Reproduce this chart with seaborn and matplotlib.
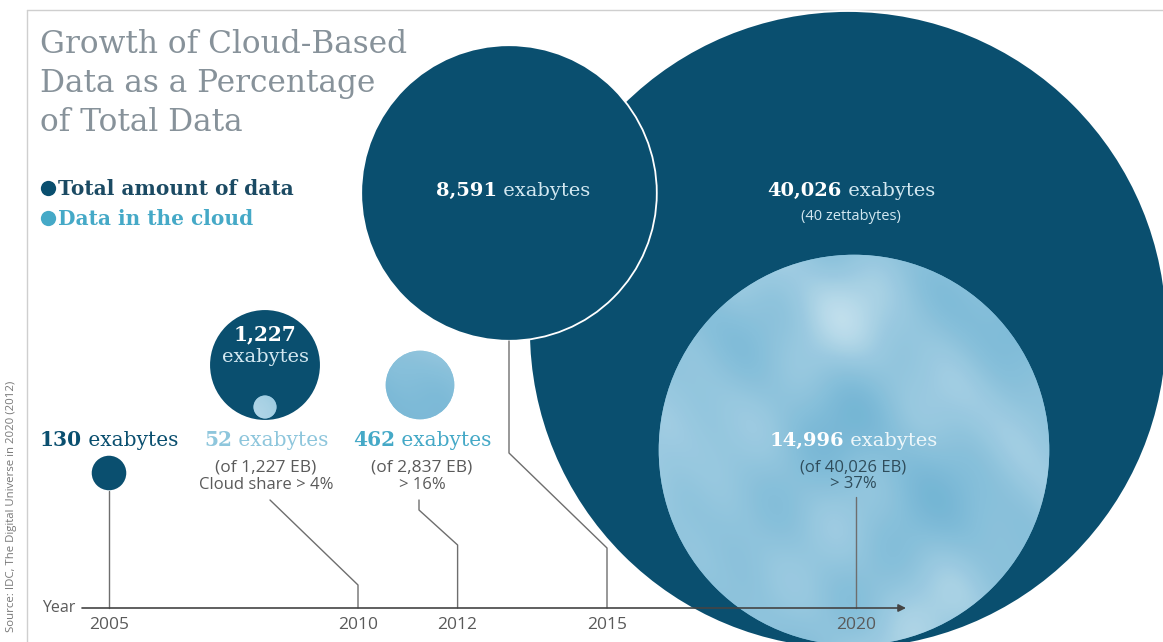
import numpy as np
import pandas as pd
import matplotlib
matplotlib.use("Agg")
import matplotlib.pyplot as plt
import seaborn as sns
from matplotlib.patches import Ellipse
from matplotlib.colors import LinearSegmentedColormap

# data (exabytes)
years = [2005, 2010, 2012, 2015, 2020]
total_eb = [130, 1227, 2837, 8591, 40026]
cloud_eb = [0, 52, 462, 0, 14996]
share_text = ["", "Cloud share > 4%", "> 16%", "", "> 37%"]

# which totals / cloud amounts get a bubble
total_bubble_years = [2020, 2015, 2010, 2005]   # drawn big first
cloud_bubble_years = [2020, 2012, 2010]

# layout: bubble centres on the 1163x642 canvas (pixels)
total_pos = {2005: (109, 473), 2010: (265, 365), 2015: (509, 193), 2020: (848, 330)}
cloud_pos = {2010: (265, 407), 2012: (420, 385), 2020: (854, 450)}

# leader lines: start points (px) and the height where they turn down to the axis
leader_start = {
    2005: [(109, 491)],
    2010: [(270, 500)],
    2012: [(419, 500), (419, 510)],
    2015: [(509, 341), (509, 453)],
    2020: [(856, 497)],
}
leader_knee = {2005: 491, 2010: 585, 2012: 545, 2015: 548, 2020: 497}

NAVY = "#0a4f6f"
CLOUD = "#86c0da"
CYAN = "#45a9c7"
PALE = "#8ec6dc"
GREY = "#5a5a5a"
SERIF = "DejaVu Serif"
SANS = "Open Sans"

W, H = 1163, 642
X0, PX_YEAR = 109, 49.8          # 2005 sits at x=109px, 49.8px per year
AXIS_Y = 608


def yr(px):
    return 2005 + (px - X0) / PX_YEAR


sns.set_theme(style="white")
plt.rcParams["font.family"] = [SANS, "DejaVu Sans"]

fig = plt.figure(figsize=(W / 100, H / 100), dpi=100)
ax = fig.add_axes([0, 0, 1, 1])
ax.axis("off")

# marker area so that the 40,026 EB bubble has a 319 px radius
VMAX = max(total_eb)
SMAX = (2 * 319 * 0.72) ** 2


def radius_px(v):
    return np.sqrt(SMAX * v / VMAX) / 2 / 0.72


tot = dict(zip(years, total_eb))
cld = dict(zip(years, cloud_eb))

dark = pd.DataFrame({
    "x": [yr(total_pos[y][0]) for y in total_bubble_years],
    "y": [total_pos[y][1] for y in total_bubble_years],
    "value": [tot[y] for y in total_bubble_years],
})
light = pd.DataFrame({
    "x": [yr(cloud_pos[y][0]) for y in cloud_bubble_years],
    "y": [cloud_pos[y][1] for y in cloud_bubble_years],
    "value": [cld[y] for y in cloud_bubble_years],
})

# frame
ax.plot([yr(27), yr(27)], [H, 10], color="#cfcfcf", lw=1, zorder=0)
ax.plot([yr(27), yr(W)], [10, 10], color="#cfcfcf", lw=1, zorder=0)

sns.scatterplot(data=dark, x="x", y="y", size="value", sizes=(0, SMAX),
                size_norm=(0, VMAX), color=NAVY, edgecolor="white",
                linewidth=1.3, legend=False, ax=ax, zorder=2)
sns.scatterplot(data=light, x="x", y="y", size="value", sizes=(0, SMAX),
                size_norm=(0, VMAX), color=CLOUD, linewidth=0,
                legend=False, ax=ax, zorder=3)

ax.set_xlim(yr(0), yr(W))
ax.set_ylim(H, 0)

# soft cloud texture inside the cloud bubbles
yy, xx = np.mgrid[0:H, 0:W].astype(float)
tex = (np.sin(xx / 37 + 0.5) * np.sin(yy / 29)
       + 0.8 * np.sin(xx / 61 - yy / 43 + 1.3)
       + 0.45 * np.sin(xx / 21 + yy / 33 + 2.1)
       + 0.5 * np.cos(xx / 97 + yy / 71)
       + 0.25 * np.sin(xx / 13 - yy / 17))
tex = (tex - tex.min()) / (tex.max() - tex.min())
cloud_cmap = LinearSegmentedColormap.from_list(
    "cl", ["#70b3d3", "#86bfda", "#9fcce2", "#c6e2ee"])
for y in cloud_bubble_years:
    cx, cy = cloud_pos[y]
    r = radius_px(cld[y])
    im = ax.imshow(tex, cmap=cloud_cmap, extent=(yr(0), yr(W), H, 0),
                   aspect="auto", interpolation="bilinear", alpha=0.9, zorder=3.5)
    clip = Ellipse((yr(cx), cy), 2 * r / PX_YEAR, 2 * r)
    clip.set_transform(ax.transData)
    im.set_clip_path(clip)
ax.set_xlim(yr(0), yr(W))
ax.set_ylim(H, 0)

# leader lines from each label down to its year on the axis
for y in years:
    xs = [yr(p[0]) for p in leader_start[y]] + [y, y]
    ys = [p[1] for p in leader_start[y]] + [leader_knee[y], AXIS_Y]
    ax.plot(xs, ys, color="#6e6e6e", lw=1, zorder=4)

# year axis
ax.annotate("", xy=(yr(906), AXIS_Y), xytext=(yr(82), AXIS_Y),
            arrowprops=dict(arrowstyle="-|>", color="#444444", lw=1.2,
                            mutation_scale=11, shrinkA=0, shrinkB=0), zorder=5)
ax.text(yr(42), AXIS_Y, "Year", fontsize=11.5, color=GREY, va="center", ha="left")
for y in years:
    ax.text(y, 625, str(y), fontsize=12.5, color=GREY, ha="center", va="center", zorder=5)

renderer = fig.canvas.get_renderer()


def pair(xc, yb, bold, rest, size, c1, c2, z=6):
    t1 = ax.text(0, yb, bold, fontsize=size, fontweight="bold", family=SERIF,
                 color=c1, va="baseline", ha="left", zorder=z)
    t2 = ax.text(0, yb, " " + rest, fontsize=size, family=SERIF,
                 color=c2, va="baseline", ha="left", zorder=z)
    w1 = t1.get_window_extent(renderer).width
    w2 = t2.get_window_extent(renderer).width
    left = xc - (w1 + w2) / 2
    t1.set_x(yr(left))
    t2.set_x(yr(left + w1))


def small(xc, yc, s, color, size=12):
    ax.text(yr(xc), yc, s, fontsize=size, color=color, ha="center",
            va="center", zorder=6)


# title and legend
for i, line in enumerate(["Growth of Cloud-Based", "Data as a Percentage", "of Total Data"]):
    ax.text(yr(40), 53 + 39 * i, line, family=SERIF, fontsize=22.5,
            color="#87929a", va="baseline", ha="left")
ax.plot([yr(48)], [188], "o", ms=11, color=NAVY, mec="none")
ax.plot([yr(48)], [218], "o", ms=11, color=CYAN, mec="none")
ax.text(yr(58), 195, "Total amount of data", family=SERIF, fontsize=14.5,
        fontweight="bold", color="#1b4a63", va="baseline")
ax.text(yr(58), 225, "Data in the cloud", family=SERIF, fontsize=14.5,
        fontweight="bold", color=CYAN, va="baseline")

# 2005
pair(109, 446, f"{tot[2005]:,}", "exabytes", 14.5, NAVY, NAVY)
# 2010
ax.text(yr(265), 340, f"{tot[2010]:,}", family=SERIF, fontsize=14.5,
        fontweight="bold", color="white", ha="center", va="baseline", zorder=6)
ax.text(yr(265), 362, "exabytes", family=SERIF, fontsize=14,
        color="#d3e8f1", ha="center", va="baseline", zorder=6)
pair(266, 446, f"{cld[2010]:,}", "exabytes", 14.5, PALE, PALE)
small(266, 468, f"(of {tot[2010]:,} EB)", GREY, size=12.5)
small(266, 485, share_text[1], GREY)
# 2012
pair(422, 446, f"{cld[2012]:,}", "exabytes", 14.5, CYAN, CYAN)
small(422, 468, f"(of {tot[2012]:,} EB)", GREY, size=12.5)
small(422, 485, share_text[2], GREY)
# 2015
pair(513, 196, f"{tot[2015]:,}", "exabytes", 14, "white", "#d3e8f1")
# 2020
pair(851, 196, f"{tot[2020]:,}", "exabytes", 14, "white", "#d3e8f1")
small(851, 217, "(40 zettabytes)", "#d3e8f1", size=10.5)
pair(853, 446, f"{cld[2020]:,}", "exabytes", 14, "white", "#eef7fa")
small(853, 467, f"(of {tot[2020]:,} EB)", "#2f4d5c")
small(853, 484, share_text[4], "#2f4d5c")

# source
ax.text(yr(11), 506, "Source: IDC, The Digital Universe in 2020 (2012)",
        rotation=90, fontsize=8.2, color="#777777", ha="center", va="center")

fig.savefig("out.png", dpi=100)
